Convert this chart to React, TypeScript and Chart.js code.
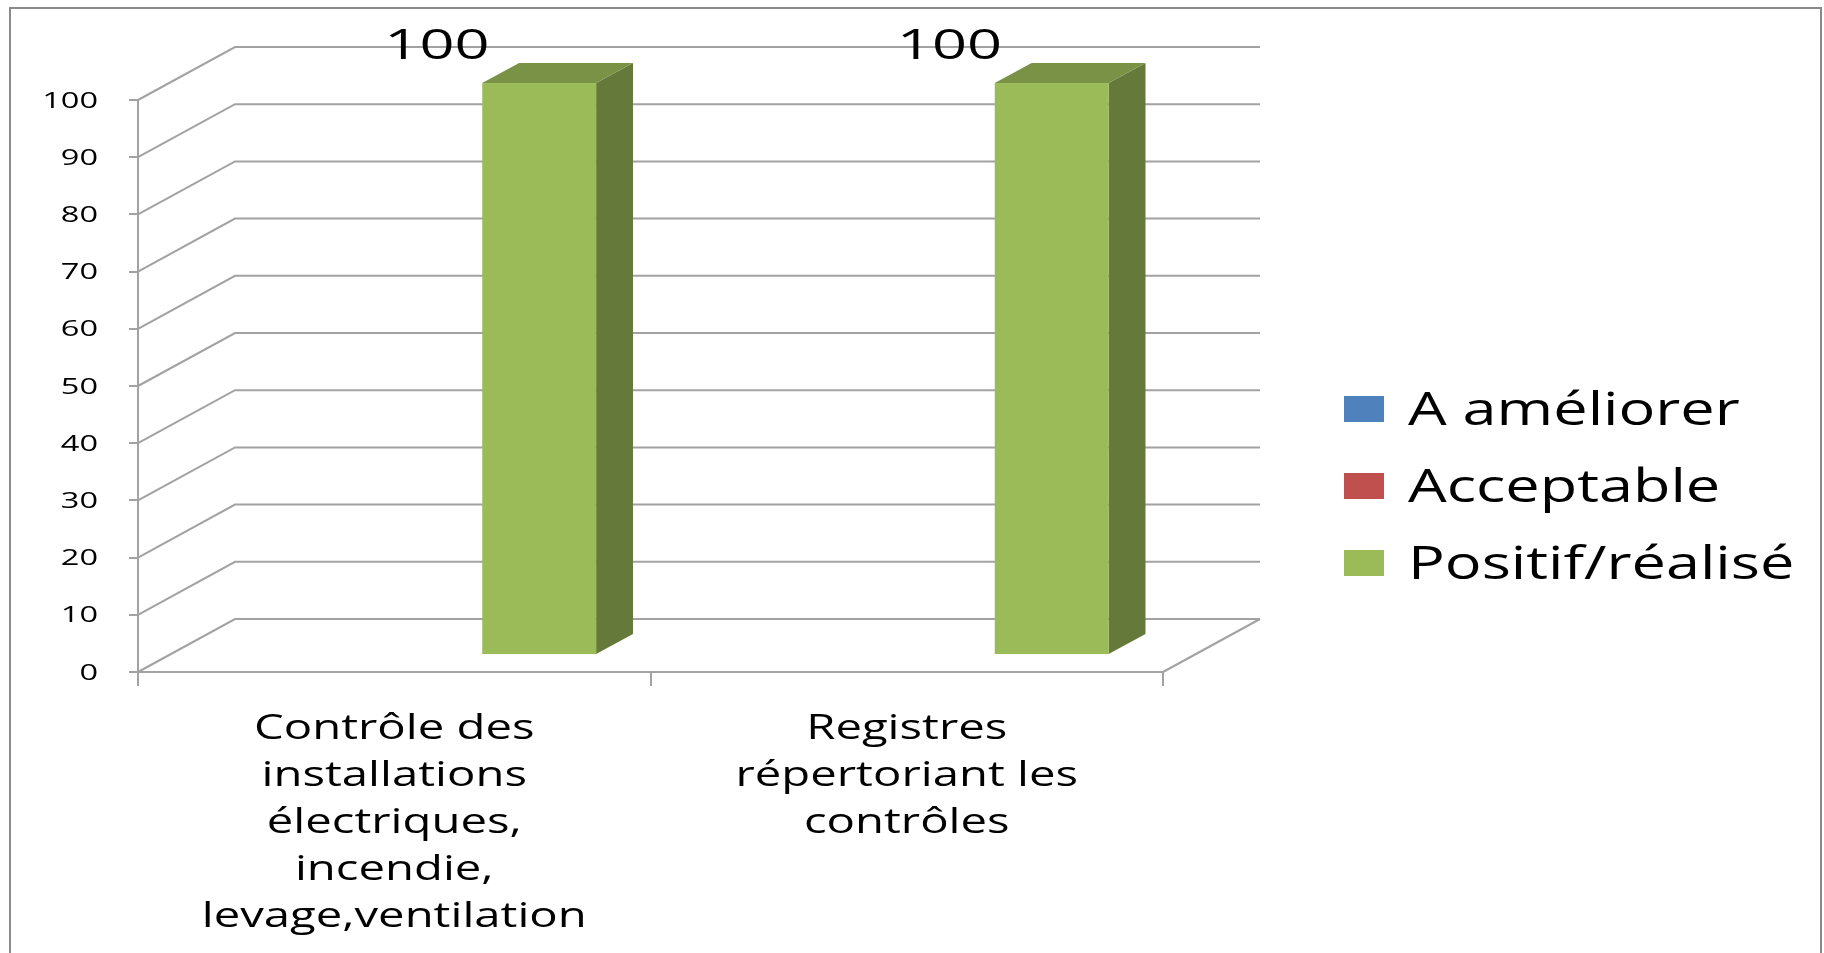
import React, { useEffect, useRef } from "react";
import { Chart, registerables } from "chart.js";

Chart.register(...registerables);

// ---- data ----
const categories: string[][] = [
  ["Contrôle des", "installations", "électriques,", "incendie,", "levage,ventilation"],
  ["Registres", "répertoriant les", "contrôles"],
];
const seriesNames = ["A améliorer", "Acceptable", "Positif/réalisé"];
const aAmeliorer = [0, 0];
const acceptable = [0, 0];
const positifRealise = [100, 100];
const yTickValues = [0, 10, 20, 30, 40, 50, 60, 70, 80, 90, 100];

// ---- style ----
const SERIES_COLORS = ["#4F81BD", "#C0504D", "#9BBB59"];
const GRID = "#a2a2a2";
const FONT = "'Open Sans', 'Noto Sans', sans-serif";
const DX = 97; // depth offset of back wall
const DY = -53;
const Z_FRONT = 0.32;
const Z_BACK = 0.7;

function shade(hex: string, f: number) {
  const n = parseInt(hex.slice(1), 16);
  const r = Math.round(((n >> 16) & 255) * f);
  const g = Math.round(((n >> 8) & 255) * f);
  const b = Math.round((n & 255) * f);
  return `rgb(${r},${g},${b})`;
}

function stretchText(
  ctx: CanvasRenderingContext2D,
  text: string,
  x: number,
  y: number,
  size: number,
  sx: number,
  align: "left" | "center" | "right"
) {
  ctx.save();
  ctx.font = `${size}px ${FONT}`;
  ctx.textAlign = "left";
  ctx.textBaseline = "alphabetic";
  const w = ctx.measureText(text).width * sx;
  const left = align === "center" ? x - w / 2 : align === "right" ? x - w : x;
  ctx.translate(left, y);
  ctx.scale(sx, 1);
  ctx.fillStyle = "#000";
  ctx.fillText(text, 0, 0);
  ctx.restore();
}

const threeD = {
  id: "threeD",
  beforeDatasetsDraw(chart: any) {
    const { ctx, chartArea } = chart;
    const y = chart.scales.y;
    const y0 = y.getPixelForValue(0);
    ctx.save();
    ctx.strokeStyle = GRID;
    ctx.lineWidth = 2;
    // left wall diagonals + back wall gridlines
    y.ticks.forEach((t: any) => {
      const py = y.getPixelForValue(t.value);
      ctx.beginPath();
      ctx.moveTo(chartArea.left, py);
      ctx.lineTo(chartArea.left + DX, py + DY);
      ctx.lineTo(chartArea.right + DX, py + DY);
      ctx.stroke();
    });
    // floor right edge
    ctx.beginPath();
    ctx.moveTo(chartArea.right, y0);
    ctx.lineTo(chartArea.right + DX, y0 + DY);
    ctx.stroke();

    // 3D bars
    chart.data.datasets.forEach((ds: any, di: number) => {
      const meta = chart.getDatasetMeta(di);
      meta.data.forEach((bar: any, i: number) => {
        const v = ds.data[i];
        if (!v) return;
        const p = bar.getProps(["x", "y", "base", "width"], true);
        const l = p.x - p.width / 2;
        const r = p.x + p.width / 2;
        const top = p.y;
        const base = p.base;
        const fx = DX * Z_FRONT, fy = DY * Z_FRONT;
        const bx = DX * Z_BACK, by = DY * Z_BACK;
        const col = ds.backgroundColor;
        // side
        ctx.fillStyle = shade(col, 0.65);
        ctx.beginPath();
        ctx.moveTo(r + fx, top + fy);
        ctx.lineTo(r + bx, top + by);
        ctx.lineTo(r + bx, base + by);
        ctx.lineTo(r + fx, base + fy);
        ctx.closePath();
        ctx.fill();
        // top
        ctx.fillStyle = shade(col, 0.78);
        ctx.beginPath();
        ctx.moveTo(l + fx, top + fy);
        ctx.lineTo(r + fx, top + fy);
        ctx.lineTo(r + bx, top + by);
        ctx.lineTo(l + bx, top + by);
        ctx.closePath();
        ctx.fill();
        // front
        ctx.fillStyle = col;
        ctx.fillRect(l + fx, top + fy, r - l, base - top);
      });
    });
    ctx.restore();
    return false;
  },
  afterDraw(chart: any) {
    const { ctx } = chart;
    const x = chart.scales.x;
    const y = chart.scales.y;

    // y tick labels
    y.ticks.forEach((t: any) => {
      const py = y.getPixelForValue(t.value);
      stretchText(ctx, String(t.value), 98, py + 7.5, 21, 1.55, "right");
    });

    // category labels
    (chart.data.labels as string[][]).forEach((lines, i) => {
      const cx = x.getPixelForValue(i);
      lines.forEach((line, k) => {
        stretchText(ctx, line, cx, 739 + k * 47, 34, 1.39, "center");
      });
    });

    // value labels (last series)
    const lastIdx = chart.data.datasets.length - 1;
    const ds = chart.data.datasets[lastIdx];
    ds.data.forEach((v: number, i: number) => {
      const lx = x.getPixelForValue(i) + DX * 0.44;
      const ly = y.getPixelForValue(v) + DY + 12;
      stretchText(ctx, String(v), lx, ly, 42, 1.46, "center");
    });

    // legend
    chart.data.datasets.forEach((d: any, i: number) => {
      const cy = 409 + i * 77;
      ctx.fillStyle = d.backgroundColor;
      ctx.fillRect(1344, cy - 13, 40, 26);
      stretchText(ctx, d.label, 1408, cy + 16, 45, 1.36, "left");
    });

    // outer border
    ctx.save();
    ctx.strokeStyle = "#8a8a8a";
    ctx.lineWidth = 2;
    ctx.strokeRect(10, 8, 1811, 1000);
    ctx.restore();
  },
};

export default function App() {
  const ref = useRef<HTMLCanvasElement>(null);
  useEffect(() => {
    const seriesData = [aAmeliorer, acceptable, positifRealise];
    const chart = new Chart(ref.current as HTMLCanvasElement, {
      type: "bar",
      data: {
        labels: categories as any,
        datasets: seriesNames.map((name, i) => ({
          label: name,
          data: seriesData[i],
          backgroundColor: SERIES_COLORS[i],
          barPercentage: 1,
          categoryPercentage: 3 / 4.5,
        })),
      },
      options: {
        animation: false,
        responsive: false,
        maintainAspectRatio: false,
        layout: { padding: { left: 0, top: 100, right: 661, bottom: 0 } },
        plugins: {
          legend: { display: false },
          tooltip: { enabled: false },
        },
        scales: {
          x: {
            ticks: { display: false },
            grid: {
              drawOnChartArea: false,
              drawTicks: true,
              tickLength: 14,
              color: GRID,
              lineWidth: 2,
            },
            border: { display: true, color: GRID, width: 2 },
            afterFit: (s: any) => {
              s.height = 953 - 672;
            },
          },
          y: {
            min: 0,
            max: 100,
            ticks: { display: false, stepSize: 10 },
            afterBuildTicks: (s: any) => {
              s.ticks = yTickValues.map((v) => ({ value: v }));
            },
            grid: {
              drawOnChartArea: false,
              drawTicks: true,
              tickLength: 9,
              color: GRID,
              lineWidth: 2,
            },
            border: { display: true, color: GRID, width: 2 },
            afterFit: (s: any) => {
              s.width = 138;
            },
          },
        },
      },
      plugins: [threeD],
    });
    return () => chart.destroy();
  }, []);
  return (
    <canvas
      ref={ref}
      width={1824}
      height={953}
      style={{ position: "fixed", left: 0, top: 0, width: 1824, height: 953 }}
    />
  );
}
